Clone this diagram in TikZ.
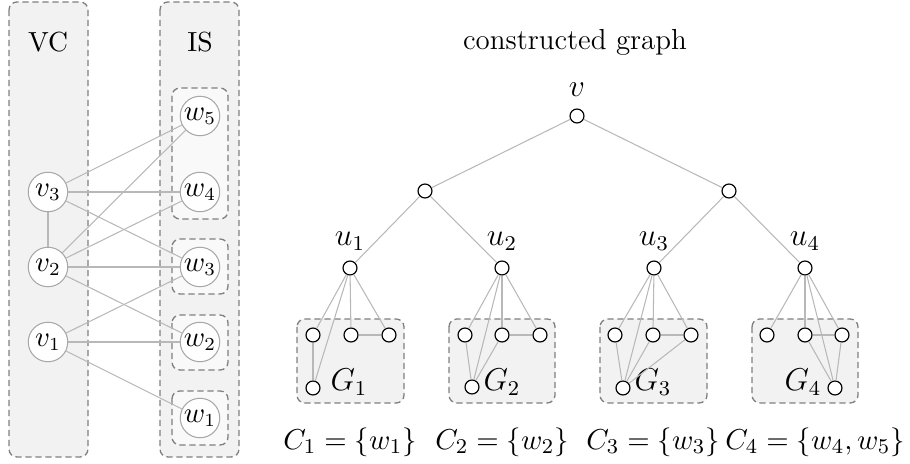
\documentclass[tikz,border=0pt]{standalone}
\definecolor{boxfill}{HTML}{F2F2F2}
\definecolor{innerfill}{HTML}{F9F9F9}
\definecolor{boxline}{HTML}{7F7F7F}
\definecolor{edgegray}{HTML}{B8B8B8}
\definecolor{nodeline}{HTML}{A8A8A8}
\begin{document}
\begin{tikzpicture}[x=0.38pt,y=-0.38pt,
  bigbox/.style={draw=boxline, fill=boxfill, dash pattern=on 2.4pt off 1.4pt, rounded corners=3pt, line width=0.5pt},
  innerbox/.style={bigbox, fill=innerfill},
  bignode/.style={circle, draw=nodeline, fill=white, minimum size=15pt, inner sep=0pt, line width=0.4pt, font=\fontsize{10.5}{12.5}\selectfont},
  dot/.style={circle, draw=black, fill=white, minimum size=5.3pt, inner sep=0pt, line width=0.45pt},
  edge/.style={draw=edgegray, line width=0.4pt},
  sidelbl/.style={font=\fontsize{10.5}{12.5}\selectfont},
  mlbl/.style={font=\fontsize{11.5}{14}\selectfont, inner sep=0pt},
  caplbl/.style={font=\fontsize{11}{13.5}\selectfont, inner sep=0pt}]
\useasboundingbox (0,0) rectangle (910,464);

% ---------- left part ----------
\draw[bigbox] (9,2) rectangle (88,457);
\draw[bigbox] (160,2) rectangle (239,457);
\draw[innerbox] (172,88) rectangle (228,219);
\draw[innerbox] (172,239) rectangle (228,294);
\draw[innerbox] (172,315) rectangle (228,370);
\draw[innerbox] (172,391) rectangle (228,445);

\node[sidelbl] (vc) at (48,42) {VC};
\node[sidelbl] (is) at (200,42) {IS};

\node[bignode] (v3) at (48,192) {$v_3$};
\node[bignode] (v2) at (48,267) {$v_2$};
\node[bignode] (v1) at (48,342) {$v_1$};
\node[bignode] (w5) at (200,116) {$w_5$};
\node[bignode] (w4) at (200,192) {$w_4$};
\node[bignode] (w3) at (200,267) {$w_3$};
\node[bignode] (w2) at (200,342) {$w_2$};
\node[bignode] (w1) at (200,418) {$w_1$};

\draw[edge] (v3) -- (v2);
\draw[edge] (v3) -- (w5);
\draw[edge] (v3) -- (w4);
\draw[edge] (v3) -- (w3);
\draw[edge] (v2) -- (w5);
\draw[edge] (v2) -- (w4);
\draw[edge] (v2) -- (w3);
\draw[edge] (v2) -- (w2);
\draw[edge] (v1) -- (w3);
\draw[edge] (v1) -- (w2);
\draw[edge] (v1) -- (w1);

% ---------- right part ----------
\node[font=\fontsize{11}{13.5}\selectfont] (title) at (575,42) {constructed graph};

\draw[bigbox] (297,319) rectangle (404,403);
\draw[bigbox] (449,319) rectangle (555,403);
\draw[bigbox] (600,319) rectangle (707,403);
\draw[bigbox] (752,319) rectangle (858,403);

\node[dot] (r) at (577,116) {};
\node[dot] (l) at (425,191) {};
\node[dot] (rr) at (729,191) {};
\node[dot] (u1) at (350,268) {};
\node[dot] (u2) at (502,268) {};
\node[dot] (u3) at (654,268) {};
\node[dot] (u4) at (805,268) {};

\node[mlbl] (lv) at (577,90) {$v$};
\node[mlbl] (lu1) at (350,241) {$u_1$};
\node[mlbl] (lu2) at (502,241) {$u_2$};
\node[mlbl] (lu3) at (654,241) {$u_3$};
\node[mlbl] (lu4) at (805,241) {$u_4$};

\draw[edge] (r) -- (l);
\draw[edge] (r) -- (rr);
\draw[edge] (l) -- (u1);
\draw[edge] (l) -- (u2);
\draw[edge] (rr) -- (u3);
\draw[edge] (rr) -- (u4);

% G1
\node[dot] (a1) at (313,335) {};
\node[dot] (b1) at (351,335) {};
\node[dot] (c1) at (389,335) {};
\node[dot] (d1) at (313,388) {};
\node[mlbl] (g1) at (349,382) {$G_1$};
\draw[edge] (u1) -- (a1);
\draw[edge] (u1) -- (b1);
\draw[edge] (u1) -- (c1);
\draw[edge] (u1) -- (d1);
\draw[edge] (a1) -- (d1);
\draw[edge] (b1) -- (c1);

% G2
\node[dot] (a2) at (465,335) {};
\node[dot] (b2) at (502,335) {};
\node[dot] (c2) at (540,335) {};
\node[dot] (d2) at (472,387) {};
\node[mlbl] (g2) at (502,382) {$G_2$};
\draw[edge] (u2) -- (a2);
\draw[edge] (u2) -- (b2);
\draw[edge] (u2) -- (c2);
\draw[edge] (u2) -- (d2);
\draw[edge] (a2) -- (d2);
\draw[edge] (b2) -- (d2);
\draw[edge] (b2) -- (c2);

% G3
\node[dot] (a3) at (615,335) {};
\node[dot] (b3) at (653,335) {};
\node[dot] (c3) at (691,335) {};
\node[dot] (d3) at (623,388) {};
\node[mlbl] (g3) at (653,382) {$G_3$};
\draw[edge] (u3) -- (a3);
\draw[edge] (u3) -- (b3);
\draw[edge] (u3) -- (c3);
\draw[edge] (u3) -- (d3);
\draw[edge] (a3) -- (d3);
\draw[edge] (b3) -- (d3);
\draw[edge] (c3) -- (d3);
\draw[edge] (b3) -- (c3);

% G4
\node[dot] (a4) at (767,335) {};
\node[dot] (b4) at (805,335) {};
\node[dot] (c4) at (842,335) {};
\node[dot] (d4) at (835,388) {};
\node[mlbl] (g4) at (803,382) {$G_4$};
\draw[edge] (u4) -- (a4);
\draw[edge] (u4) -- (b4);
\draw[edge] (u4) -- (c4);
\draw[edge] (u4) -- (d4);
\draw[edge] (b4) -- (d4);
\draw[edge] (c4) -- (d4);
\draw[edge] (b4) -- (c4);

% captions
\node[caplbl] (cap1) at (350,442) {$C_1=\{w_1\}$};
\node[caplbl] (cap2) at (502,442) {$C_2=\{w_2\}$};
\node[caplbl] (cap3) at (653,442) {$C_3=\{w_3\}$};
\node[caplbl] (cap4) at (815,442) {$C_4=\{w_4,w_5\}$};
\end{tikzpicture}
\end{document}
